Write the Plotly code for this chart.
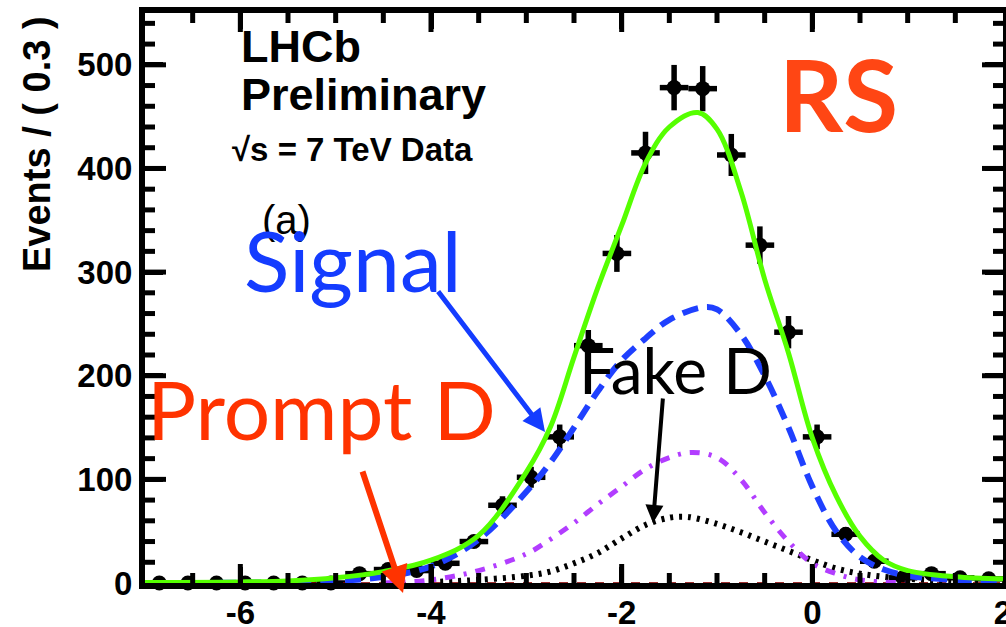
import plotly.graph_objects as go

# ---------------- data ----------------
bin_centers = [-6.85, -6.55, -6.25, -5.95, -5.65, -5.35, -5.05, -4.75, -4.45, -4.15,
               -3.85, -3.55, -3.25, -2.95, -2.65, -2.35, -2.05, -1.75, -1.45, -1.15,
               -0.85, -0.55, -0.25, 0.05, 0.35, 0.65, 0.95, 1.25, 1.55, 1.85]
counts = [0, 0, 0, 0, 0, 0, 0, 9, 13, 12,
          19, 40, 75, 102, 141, 229, 318, 415, 478, 477,
          413, 326, 242, 141, 47, 21, 5, 9, 5, 4]
count_err = [0, 0, 0, 0, 0, 0, 0, 3, 3.6, 3.5,
             4.4, 6.3, 8.7, 10.1, 11.9, 15.1, 17.8, 20.4, 21.9, 21.8,
             20.3, 18.1, 15.6, 11.9, 6.9, 4.6, 2.2, 3, 2.2, 2]
bin_half_width = 0.15

total_x = [-7, -6, -5.5, -5, -4.5, -4, -3.5, -3, -2.75, -2.5, -2.25, -2, -1.75, -1.5,
           -1.2, -1, -0.75, -0.5, -0.25, 0, 0.25, 0.5, 0.75, 1, 1.5, 2]
total_y = [0.5, 1, 2, 5, 11, 22, 46, 107, 150, 218, 285, 345, 405, 440,
           454, 438, 378, 293, 222, 140, 84, 45, 22, 12, 6, 4]

signal_x = [-7, -5, -4.5, -4, -3.5, -3, -2.75, -2.5, -2.25, -2, -1.75, -1.5, -1.15,
            -1, -0.75, -0.5, -0.25, 0, 0.25, 0.5, 0.75, 1, 1.5, 2]
signal_y = [0, 2, 6, 16, 42, 88, 116, 150, 185, 215, 236, 254, 266,
            264, 240, 200, 150, 93, 50, 25, 13, 7, 3, 1]

comb_x = [-4.5, -4, -3.5, -3, -2.75, -2.5, -2.25, -2, -1.75, -1.5, -1.27, -1,
          -0.75, -0.5, -0.25, 0, 0.25, 0.5, 1]
comb_y = [0, 3, 12, 28, 42, 58, 76, 93, 110, 121, 126, 121,
          100, 68, 40, 19, 9, 3, 0]

fake_x = [-4, -3.5, -3, -2.75, -2.5, -2.25, -2, -1.75, -1.5, -1.35, -1.25, -1,
          -0.75, -0.5, -0.25, 0, 0.25, 0.5, 0.75, 1, 1.5, 2]
fake_y = [1, 3, 7, 11, 19, 29, 43, 56, 63, 64, 63, 57,
          49, 40, 31, 22, 14, 9, 6, 4, 2, 1]

prompt_x = [-7, -4, -2, 0, 2]
prompt_y = [0.3, 0.3, 0.3, 0.3, 0.3]

x_tick_vals = [-6, -4, -2, 0, 2]
x_tick_text = ["-6", "-4", "-2", "0", "2"]
y_tick_vals = [0, 100, 200, 300, 400, 500]
y_tick_text = ["0", "100", "200", "300", "400", "500"]

x_range = [-7, 2]
y_range = [0, 550]
x_minor_step = 0.5
y_minor_step = 20

# ---------------- layout geometry ----------------
W, H = 1006, 627
ML, MR, MT, MB = 145, 3, 13, 44
PW, PH = W - ML - MR, H - MT - MB


def px2paper_x(px):
    return (px - ML) / PW


def py2paper_y(py):
    return (H - MB - py) / PH


def px2x(px):
    return x_range[0] + (px - ML) / PW * (x_range[1] - x_range[0])


def py2y(py):
    return y_range[0] + (H - MB - py) / PH * (y_range[1] - y_range[0])


fig = go.Figure()

fig.add_trace(go.Scatter(
    x=bin_centers, y=counts, mode="markers",
    marker=dict(color="black", size=15, symbol="circle"),
    error_y=dict(type="data", array=count_err, color="black", thickness=5.5, width=0),
    error_x=dict(type="constant", value=bin_half_width, color="black", thickness=5.5, width=0),
    cliponaxis=False, showlegend=False, hoverinfo="skip"))

fig.add_trace(go.Scatter(x=prompt_x, y=prompt_y, mode="lines",
                         line=dict(color="#880000", width=1, dash="dash"),
                         showlegend=False))
fig.add_trace(go.Scatter(x=fake_x, y=fake_y, mode="lines",
                         line=dict(color="black", width=6, dash="3px,6px", shape="spline", smoothing=1),
                         showlegend=False))
fig.add_trace(go.Scatter(x=comb_x, y=comb_y, mode="lines",
                         line=dict(color="#B23DFF", width=5, dash="10px,9px,3px,9px", shape="spline", smoothing=1),
                         showlegend=False))
fig.add_trace(go.Scatter(x=signal_x, y=signal_y, mode="lines",
                         line=dict(color="#1F40FF", width=6, dash="16px,9px", shape="spline", smoothing=1),
                         showlegend=False))
fig.add_trace(go.Scatter(x=total_x, y=total_y, mode="lines",
                         line=dict(color="#55FF00", width=5, shape="spline", smoothing=1),
                         showlegend=False))

tickfont = dict(family="Liberation Sans, Arial, sans-serif", size=33, color="black", weight="bold")

fig.update_layout(
    width=W, height=H,
    margin=dict(l=ML, r=MR, t=MT, b=MB),
    paper_bgcolor="white", plot_bgcolor="white",
    showlegend=False,
    xaxis=dict(range=x_range, tickmode="array", tickvals=x_tick_vals, ticktext=x_tick_text,
               ticks="inside", ticklen=16, tickwidth=5,
               tickcolor="black", showline=True, linewidth=6, linecolor="black",
               mirror="ticks", showgrid=False, zeroline=False, automargin=False,
               tickfont=tickfont, ticklabeloverflow="allow", ticklabelstandoff=-5),
    yaxis=dict(range=y_range, tickmode="array", tickvals=y_tick_vals, ticktext=y_tick_text,
               ticks="inside", ticklen=18, tickwidth=5,
               tickcolor="black", showline=True, linewidth=6, linecolor="black",
               mirror="ticks", showgrid=False, zeroline=False, automargin=False,
               tickfont=tickfont, ticklabeloverflow="allow"),
)

# ---- frame tick marks (major + minor, all four sides), placed through the axes ----
shapes = []
tick_line = dict(color="black", width=5)


def x_tick(v, length):
    for anchor, sign in ((0, 1), (1, -1)):
        shapes.append(dict(type="line", xref="x", yref="paper", ysizemode="pixel", yanchor=anchor,
                           x0=v, x1=v, y0=0, y1=sign * length, line=tick_line, layer="above"))


def y_tick(v, length):
    for anchor, sign in ((0, 1), (1, -1)):
        shapes.append(dict(type="line", xref="paper", yref="y", xsizemode="pixel", xanchor=anchor,
                           y0=v, y1=v, x0=0, x1=sign * length, line=tick_line, layer="above"))


n_xminor = int(round((x_range[1] - x_range[0]) / x_minor_step))
for k in range(1, n_xminor):
    v = x_range[0] + k * x_minor_step
    x_tick(v, 19 if any(abs(v - t) < 1e-9 for t in x_tick_vals) else 10)

n_yminor = int(round((y_range[1] - y_range[0]) / y_minor_step))
for k in range(1, n_yminor + 1):
    v = y_range[0] + k * y_minor_step
    if v >= y_range[1]:
        continue
    y_tick(v, 21 if any(abs(v - t) < 1e-9 for t in y_tick_vals) else 10)

ann = []
bold = dict(family="Liberation Sans, Arial, sans-serif", color="black", weight="bold")


def text_ann(text, px, py, font, xanchor="left", yanchor="middle", angle=0):
    ann.append(dict(text=text, x=px2paper_x(px), y=py2paper_y(py), xref="paper", yref="paper",
                    xanchor=xanchor, yanchor=yanchor, showarrow=False, font=font,
                    textangle=angle, borderpad=0))


text_ann("LHCb", 240, 47, dict(bold, size=45))
text_ann("Preliminary", 240, 94, dict(bold, size=45))
text_ann("√s = 7 TeV Data", 231, 150, dict(bold, size=33))
text_ann("(a)", 261, 220, dict(family="Liberation Sans, Arial, sans-serif", size=40, color="black"))
text_ann("Signal", 243, 259, dict(family="Lato, sans-serif", size=84, color="#143CFF"))
text_ann("Prompt D", 146, 408, dict(family="Lato, sans-serif", size=82, color="#FF3300"))
text_ann("Fake D", 578, 370, dict(family="Lato, sans-serif", size=64, color="black"))
text_ann("RS", 778, 93, dict(family="Lato, sans-serif", size=100, color="#FF4614", weight="bold"))
text_ann("Events / ( 0.3 )", 37, 15, dict(bold, size=38), xanchor="center", yanchor="top", angle=-90)


def arrow(tail, head, color, width):
    ann.append(dict(x=px2x(head[0]), y=py2y(head[1]), ax=px2x(tail[0]), ay=py2y(tail[1]),
                    xref="x", yref="y", axref="x", ayref="y", text="", showarrow=True,
                    arrowhead=2, arrowsize=0.9, arrowwidth=width, arrowcolor=color, standoff=0))


arrow((437, 290), (545, 432), "#143CFF", 5)
arrow((362, 470), (403, 593), "#FF3300", 6)
arrow((663, 397), (653, 523), "black", 4)

fig.update_layout(annotations=ann, shapes=shapes)

fig.write_html("out.html")
